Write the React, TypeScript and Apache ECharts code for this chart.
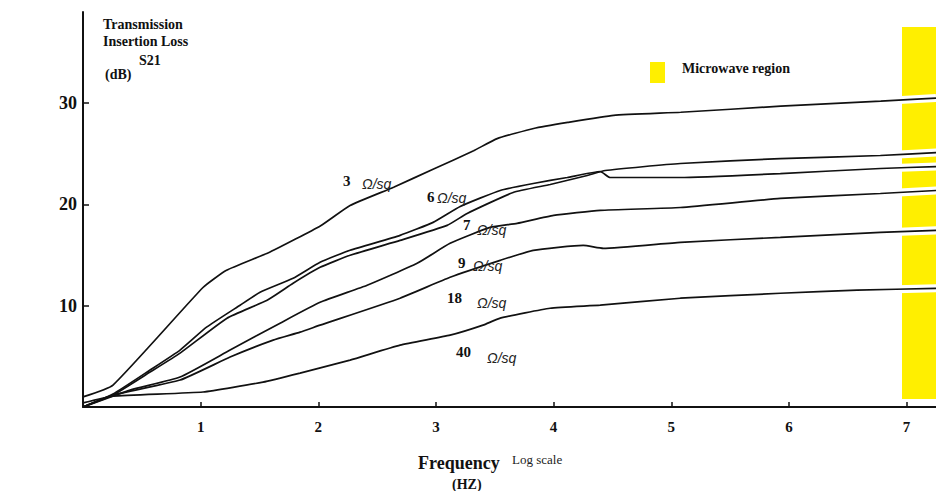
import React, { useEffect, useRef } from "react";
import * as echarts from "echarts";

const xTicks = [1, 2, 3, 4, 5, 6, 7];
const yTicks = [10, 20, 30];

const curve3: [number, number][] = [
  [0, 1.0], [0.255, 2.17], [1.02, 11.8], [1.22, 13.5], [1.59, 15.3], [2.02, 17.9],
  [2.27, 19.9], [2.64, 21.7], [2.98, 23.5], [3.32, 25.3], [3.52, 26.5], [3.83, 27.5],
  [4.12, 28.1], [4.51, 28.8], [5.08, 29.1], [5.93, 29.7], [6.78, 30.2], [7.25, 30.5],
];
const curve6: [number, number][] = [
  [0, 0], [0.255, 1.28], [0.57, 3.65], [0.825, 5.62], [1.05, 7.88], [1.335, 10.05],
  [1.505, 11.33], [1.786, 12.71], [2.015, 14.29], [2.27, 15.47], [2.695, 16.95],
  [2.976, 18.23], [3.206, 19.8], [3.546, 21.38], [3.827, 22.07], [4.116, 22.66],
  [4.396, 23.25], [4.48, 22.66], [5.077, 22.66], [5.927, 23.05], [6.777, 23.55], [7.253, 23.74],
];
const curve7: [number, number][] = [
  [0, 0], [0.255, 1.18], [0.57, 3.45], [0.825, 5.32], [1.224, 8.77], [1.565, 10.54],
  [1.786, 12.22], [2.015, 13.79], [2.27, 14.98], [2.695, 16.45], [3.095, 17.93],
  [3.265, 19.11], [3.656, 21.18], [3.971, 21.97], [4.286, 22.86], [4.439, 23.35],
  [5.077, 24.04], [5.927, 24.53], [6.777, 24.83], [7.253, 25.12],
];
const curve9: [number, number][] = [
  [0, 0], [0.4, 1.67], [0.825, 2.96], [1.25, 5.62], [1.675, 8.28], [2.015, 10.34],
  [2.415, 12.02], [2.84, 14.19], [3.12, 16.16], [3.46, 17.73], [3.69, 18.13],
  [4.0, 18.92], [4.396, 19.41], [5.077, 19.7], [5.927, 20.59], [6.777, 21.08], [7.253, 21.38],
];
const curve18: [number, number][] = [
  [0, 0], [0.255, 1.18], [0.825, 2.66], [1.25, 4.93], [1.616, 6.6], [1.845, 7.39],
  [2.015, 8.08], [2.695, 10.74], [3.12, 12.81], [3.546, 14.48], [3.827, 15.47],
  [4.252, 15.96], [4.422, 15.67], [5.077, 16.26], [5.927, 16.75], [6.777, 17.24], [7.253, 17.44],
];
const curve40: [number, number][] = [
  [0, 0.4], [0.255, 1.08], [1.02, 1.48], [1.53, 2.46], [1.845, 3.35], [2.27, 4.63],
  [2.695, 6.11], [3.12, 7.09], [3.4, 8.08], [3.546, 8.77], [3.97, 9.75], [4.396, 10.05],
  [5.077, 10.74], [5.927, 11.23], [6.58, 11.53], [7.253, 11.72],
];

const curveNames = ["3 Ω/sq", "6 Ω/sq", "7 Ω/sq", "9 Ω/sq", "18 Ω/sq", "40 Ω/sq"];
const curves = [curve3, curve6, curve7, curve9, curve18, curve40];

const SERIF = "'Liberation Serif', 'DejaVu Serif', serif";
const SANS = "'Liberation Sans', Arial, sans-serif";

function bold(text: string, x: number, y: number, size: number) {
  return {
    type: "text",
    x,
    y,
    z: 10,
    style: {
      text,
      fontFamily: SERIF,
      fontWeight: "bold",
      fontSize: size,
      fill: "#111",
      verticalAlign: "middle",
    },
  };
}
function ohm(x: number, y: number) {
  return {
    type: "text",
    x,
    y,
    z: 10,
    style: {
      text: "Ω/sq",
      fontFamily: SANS,
      fontStyle: "italic",
      fontSize: 14,
      fill: "#222",
      verticalAlign: "middle",
    },
  };
}

export default function App() {
  const ref = useRef<HTMLDivElement>(null);
  useEffect(() => {
    if (!ref.current) return;
    const chart = echarts.init(ref.current, undefined, { renderer: "svg" });
    const blackLines = curves.map((c, i) => ({
      type: "line",
      name: curveNames[i],
      data: c,
      showSymbol: false,
      smooth: 0.15,
      z: 5,
      lineStyle: { color: "#111", width: 1.7 },
    }));
    // white halo where the curves cross the yellow band (as in the scanned original)
    const halos = curves.map((c, i) => ({
      type: "line",
      name: curveNames[i] + " halo",
      data: c.filter((p) => p[0] >= 6.5),
      showSymbol: false,
      silent: true,
      z: 4,
      lineStyle: { color: "#ffffff", width: 8 },
    }));
    chart.setOption({
      animation: false,
      backgroundColor: "#ffffff",
      grid: { left: 83, right: 0, top: 12, bottom: 84, containLabel: false },
      xAxis: {
        type: "value",
        min: 0,
        max: 7.25,
        interval: 1,
        splitLine: { show: false },
        axisLine: { show: true, onZero: false, lineStyle: { color: "#111", width: 2 } },
        axisTick: { show: true, inside: true, length: 5, customValues: xTicks, lineStyle: { color: "#111", width: 1.5 } },
        axisLabel: {
          customValues: xTicks,
          margin: 12,
          color: "#111",
          fontFamily: SERIF,
          fontWeight: "bold",
          fontSize: 15,
        },
      },
      yAxis: {
        type: "value",
        min: 0,
        max: 39,
        interval: 10,
        splitLine: { show: false },
        axisLine: { show: true, onZero: false, lineStyle: { color: "#111", width: 2 } },
        axisTick: { show: true, inside: true, length: 6, customValues: yTicks, lineStyle: { color: "#111", width: 1.5 } },
        axisLabel: {
          customValues: yTicks,
          margin: 6,
          color: "#111",
          fontFamily: SERIF,
          fontWeight: "bold",
          fontSize: 18,
        },
      },
      series: [...halos, ...blackLines],
      graphic: [
        {
          type: "rect",
          z: 0,
          zlevel: 0,
          shape: { x: 902, y: 27, width: 34, height: 372 },
          style: { fill: "#FFEF00" },
        },
        {
          type: "rect",
          z: 10,
          shape: { x: 650, y: 62, width: 15, height: 21 },
          style: { fill: "#FFEF00" },
        },
        bold("Microwave region", 682, 68, 14),
        bold("Transmission", 103, 24, 14),
        bold("Insertion Loss", 103, 41, 14),
        bold("S21", 139, 60, 14),
        bold("(dB)", 105, 74, 14),
        bold("Frequency", 418, 463, 18),
        {
          type: "text",
          x: 512,
          y: 459,
          style: { text: "Log scale", fontFamily: SERIF, fontSize: 13, fill: "#222", verticalAlign: "middle" },
        },
        bold("(HZ)", 452, 484, 14),
        bold("3", 343, 181, 15),
        ohm(362, 184),
        bold("6", 427, 197, 15),
        ohm(437, 198),
        bold("7", 463, 225, 15),
        ohm(477, 230),
        bold("9", 458, 263, 15),
        ohm(473, 266),
        bold("18", 447, 298, 15),
        ohm(477, 303),
        bold("40", 456, 352, 15),
        ohm(487, 358),
      ],
    });
    return () => chart.dispose();
  }, []);
  return (
    <div
      ref={ref}
      style={{ position: "fixed", left: 0, top: 0, width: 936, height: 491, background: "#fff" }}
    />
  );
}
